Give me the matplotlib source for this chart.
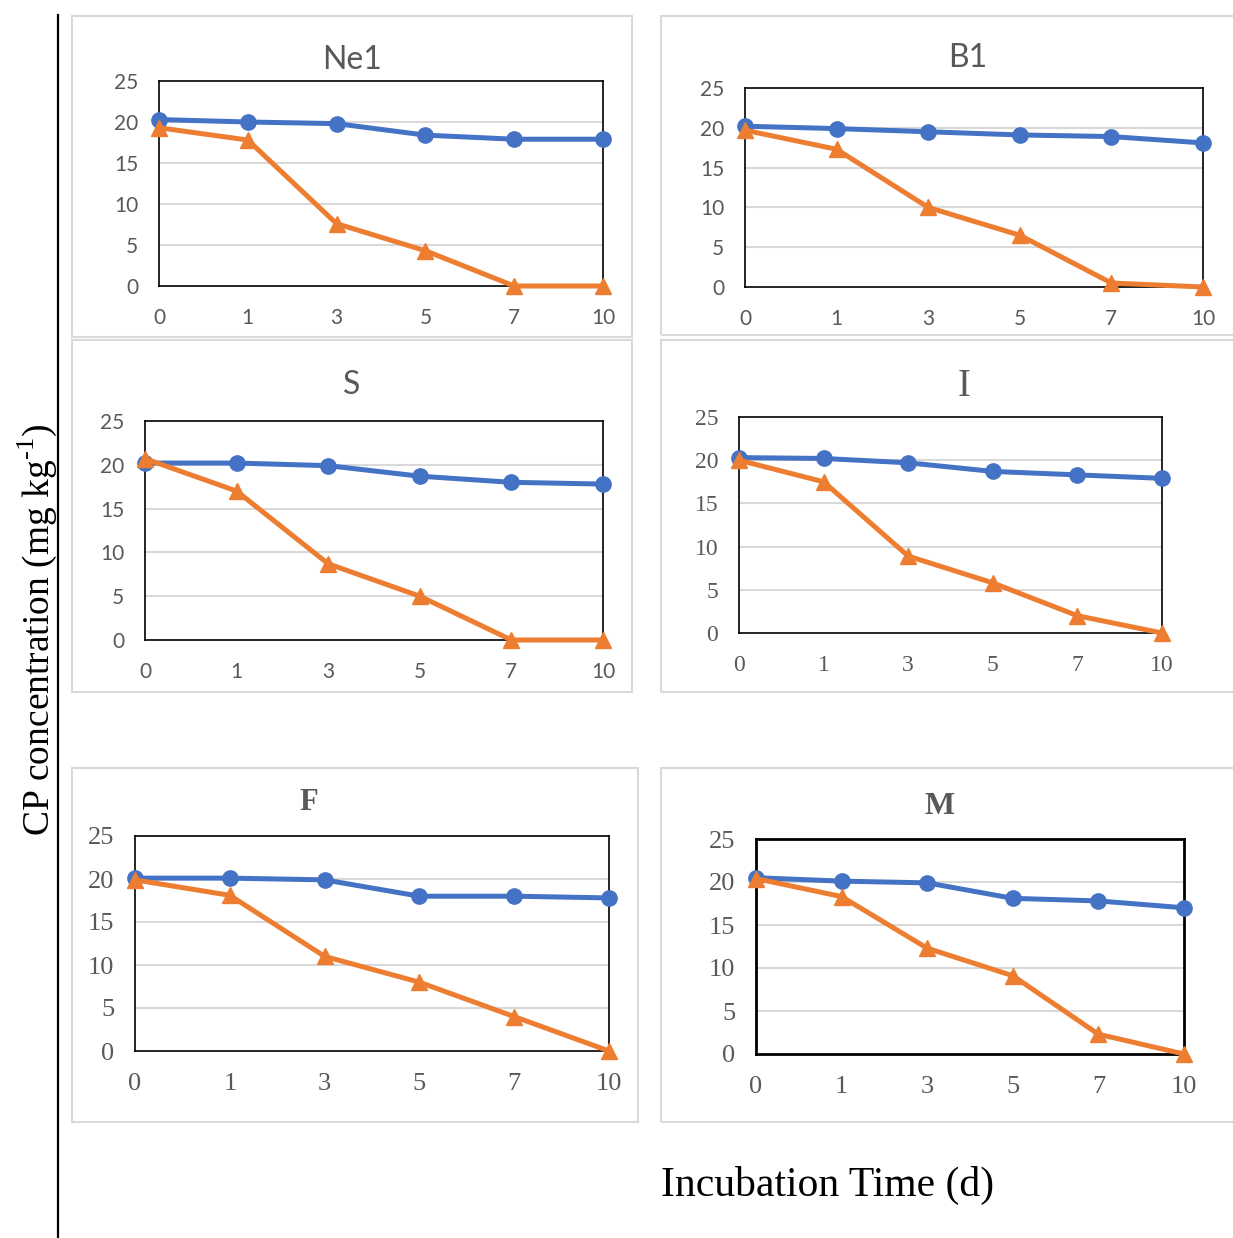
import matplotlib
matplotlib.use("Agg")
import matplotlib.pyplot as plt
from matplotlib.patches import Rectangle
from matplotlib.lines import Line2D

W, H = 1233, 1238

days = ["0", "1", "3", "5", "7", "10"]
y_ticks = [0, 5, 10, 15, 20, 25]

# values (mg/kg)
ne1_blue = [20.3, 20.0, 19.8, 18.4, 17.9, 17.9]
ne1_orange = [19.3, 17.8, 7.6, 4.3, 0.0, 0.0]
b1_blue = [20.2, 19.9, 19.5, 19.1, 18.9, 18.1]
b1_orange = [19.7, 17.3, 10.0, 6.5, 0.5, 0.0]
s_blue = [20.2, 20.2, 19.9, 18.7, 18.0, 17.8]
s_orange = [20.7, 17.0, 8.7, 5.0, 0.0, 0.0]
i_blue = [20.3, 20.2, 19.7, 18.7, 18.3, 17.9]
i_orange = [20.0, 17.5, 8.9, 5.8, 2.0, 0.0]
f_blue = [20.1, 20.1, 19.9, 18.0, 18.0, 17.8]
f_orange = [19.9, 18.1, 11.0, 8.0, 4.0, 0.0]
m_blue = [20.5, 20.1, 19.9, 18.1, 17.8, 17.0]
m_orange = [20.4, 18.3, 12.3, 9.1, 2.3, 0.0]

BLUE = "#4472C4"
ORANGE = "#ED7D31"
GRAY_TXT = "#595959"

plt.rcParams["mathtext.fontset"] = "custom"
plt.rcParams["mathtext.rm"] = "Liberation Serif"


def rect(x0, y0, x1, y1):
    return [x0 / W, 1 - y1 / H, (x1 - x0) / W, (y1 - y0) / H]


# name, blue, orange, outer box, axes box, title xy, font, title size, title weight, tick size, spine lw
panels = [
    ("Ne1", ne1_blue, ne1_orange, (72, 16, 632, 337), (159, 81, 603, 286), (352, 60), "Lato", 23, "normal", 15, 1.2),
    ("B1", b1_blue, b1_orange, (661, 16, 1240, 335), (745, 88, 1203, 287), (968, 58), "Lato", 23, "normal", 15, 1.2),
    ("S", s_blue, s_orange, (72, 340, 632, 692), (145, 421, 603, 640), (352, 385), "Lato", 23, "normal", 15, 1.2),
    ("I", i_blue, i_orange, (661, 340, 1240, 692), (739, 417, 1162, 633), (964, 387), "Liberation Serif", 28, "normal", 17, 1.2),
    ("F", f_blue, f_orange, (72, 768, 638, 1122), (135, 836, 609, 1051), (309, 803), "Liberation Serif", 22, "bold", 19, 1.2),
    ("M", m_blue, m_orange, (661, 768, 1240, 1122), (756, 839, 1184, 1054), (940, 806), "Liberation Serif", 23, "bold", 19, 2.0),
]

fig = plt.figure(figsize=(W / 100, H / 100), dpi=100)

for name, blue, orange, box, ax_box, t_xy, font, t_size, t_weight, tk_size, slw in panels:
    bx0, by0, bx1, by1 = box
    fig.patches.append(Rectangle((bx0 / W, 1 - by1 / H), (bx1 - bx0) / W, (by1 - by0) / H,
                                 transform=fig.transFigure, fill=False,
                                 edgecolor="#D9D9D9", linewidth=1.5, zorder=0))
    ax = fig.add_axes(rect(*ax_box))
    x = list(range(len(days)))
    ax.plot(x, blue, color=BLUE, linewidth=3.6, marker="o", markersize=11, clip_on=False, zorder=3)
    ax.plot(x, orange, color=ORANGE, linewidth=3.6, marker="^", markersize=11.5, clip_on=False, zorder=4)
    ax.set_xlim(0, len(days) - 1)
    ax.set_ylim(0, 25)
    ax.set_xticks(x)
    ax.set_xticklabels(days)
    ax.set_yticks(y_ticks)
    for g in y_ticks[1:-1]:
        ax.axhline(g, color="#D9D9D9", linewidth=1.5, zorder=1)
    ax.tick_params(axis="both", length=0, labelsize=tk_size, labelcolor=GRAY_TXT)
    ax.tick_params(axis="y", pad=15)
    ax.tick_params(axis="x", pad=16)
    for lab in ax.get_xticklabels() + ax.get_yticklabels():
        lab.set_family(font)
    for sp in ax.spines.values():
        sp.set_linewidth(slw)
        sp.set_color("black")
    fig.text(t_xy[0] / W, 1 - t_xy[1] / H, name, ha="center", va="center",
             fontsize=t_size, fontweight=t_weight, family=font, color=GRAY_TXT)

# left rule
fig.lines.append(Line2D([58 / W, 58 / W], [0, 1 - 15 / H], transform=fig.transFigure,
                        color="black", linewidth=1.6))

fig.text(37 / W, 1 - 630 / H, r"CP concentration (mg kg$^{\text{-1}}$)", rotation=90,
         ha="center", va="center", fontsize=27, family="Liberation Serif")
fig.text(828 / W, 1 - 1185 / H, "Incubation Time (d)", ha="center", va="center",
         fontsize=30, family="Liberation Serif")

fig.savefig("out.png", dpi=100, facecolor="white")
